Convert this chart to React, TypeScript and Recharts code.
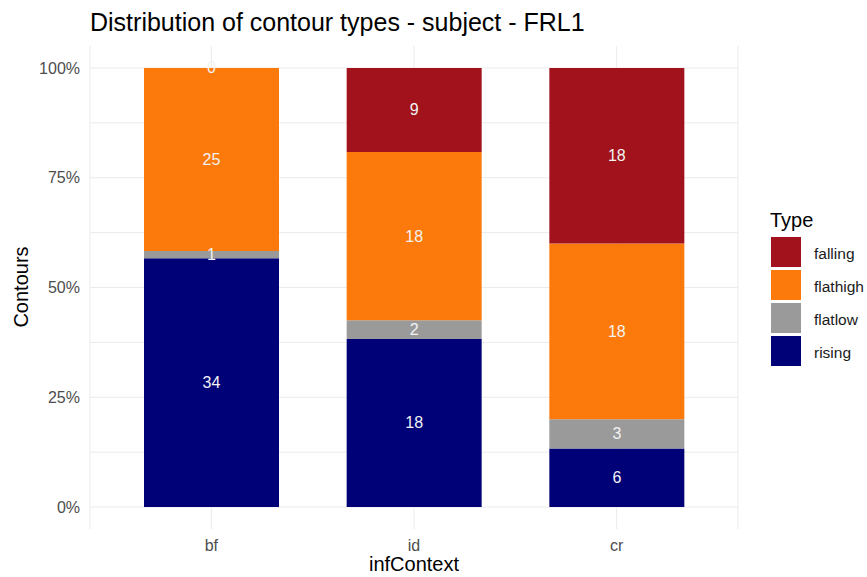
import React from 'react';
import { BarChart, Bar, XAxis, YAxis, CartesianGrid, LabelList } from 'recharts';

const contexts = ['bf', 'id', 'cr'];
const rising = [34, 18, 6];
const flatlow = [1, 2, 3];
const flathigh = [25, 18, 18];
const falling = [0, 9, 18];

const types = ['falling', 'flathigh', 'flatlow', 'rising'];
const COLORS: Record<string, string> = {
  falling: '#A1121C',
  flathigh: '#FC7A0B',
  flatlow: '#9A9A9A',
  rising: '#000077',
};

const yTicks = [0, 0.25, 0.5, 0.75, 1];
const gridLines = [0, 0.125, 0.25, 0.375, 0.5, 0.625, 0.75, 0.875, 1];

const counts: Record<string, number[]> = { rising, flatlow, flathigh, falling };

// stacking order bottom -> top
const stackOrder = ['rising', 'flatlow', 'flathigh', 'falling'];

const data = contexts.map((ctx, i) => {
  const total = rising[i] + flatlow[i] + flathigh[i] + falling[i];
  const row: Record<string, any> = { ctx };
  types.forEach((t) => {
    row[t] = counts[t][i] / total;
    row[t + '_n'] = counts[t][i];
  });
  return row;
});

const FONT = '"Liberation Sans", Arial, Helvetica, sans-serif';
const LABEL_FILL = '#F2F2F2';

const makeLabel = (key: string) => (props: any) => {
  const { x, y, width, height, value, index } = props;
  const cx = x + width / 2;
  // zero-height segments directly above this one get their "0" at its top edge
  const zeros: string[] = [];
  for (let k = stackOrder.indexOf(key) + 1; k < stackOrder.length; k++) {
    if (counts[stackOrder[k]][index] !== 0) break;
    zeros.push(stackOrder[k]);
  }
  return (
    <g>
      <text x={cx} y={y + height / 2} textAnchor="middle" dominantBaseline="central"
        fill={LABEL_FILL} fontSize={16} fontFamily={FONT}>
        {value}
      </text>
      {zeros.map((t) => (
        <text key={t} x={cx} y={y} textAnchor="middle" dominantBaseline="central"
          fill={LABEL_FILL} fontSize={16} fontFamily={FONT}>
          0
        </text>
      ))}
    </g>
  );
};

export default function App() {
  return (
    <div style={{ position: 'absolute', left: 0, top: 0, width: 867, height: 577, background: '#fff', fontFamily: FONT }}>
      <BarChart
        width={867}
        height={577}
        data={data}
        margin={{ top: 46, right: 129, bottom: 0, left: 0 }}
        barCategoryGap={0}
      >
        <CartesianGrid stroke="#EBEBEB" strokeWidth={1} horizontalValues={gridLines} vertical={true} />
        <XAxis
          dataKey="ctx"
          axisLine={false}
          tickLine={false}
          height={48}
          padding={{ left: 20, right: 20 }}
          tick={{ fill: '#4D4D4D', fontSize: 16, fontFamily: FONT }}
          tickMargin={5}
        />
        <YAxis
          type="number"
          domain={[-0.05, 1.05]}
          ticks={yTicks}
          width={90}
          axisLine={false}
          tickLine={false}
          tickMargin={4}
          tickFormatter={(v: number) => `${Math.round(v * 100)}%`}
          tick={{ fill: '#4D4D4D', fontSize: 16, fontFamily: FONT }}
        />
        {stackOrder.map((t) => (
          <Bar key={t} dataKey={t} stackId="a" fill={COLORS[t]} barSize={135} isAnimationActive={false}>
            <LabelList dataKey={t + '_n'} content={makeLabel(t)} />
          </Bar>
        ))}
        <text x={90} y={31} fontSize={25} fill="#000" fontFamily={FONT}>
          Distribution of contour types - subject - FRL1
        </text>
        <text x={414} y={571} textAnchor="middle" fontSize={20} fill="#000" fontFamily={FONT}>
          infContext
        </text>
        <text x={28} y={287} transform="rotate(-90 28 287)" textAnchor="middle" fontSize={20} fill="#000" fontFamily={FONT}>
          Contours
        </text>
        <text x={770} y={227} fontSize={20} fill="#000" fontFamily={FONT}>
          Type
        </text>
        {types.map((t, i) => (
          <g key={t}>
            <rect x={771} y={237 + i * 33} width={30} height={30} fill={COLORS[t]} />
            <text x={814} y={253 + i * 33} dominantBaseline="central" fontSize={15.5} fill="#1A1A1A" fontFamily={FONT}>
              {t}
            </text>
          </g>
        ))}
      </BarChart>
    </div>
  );
}
